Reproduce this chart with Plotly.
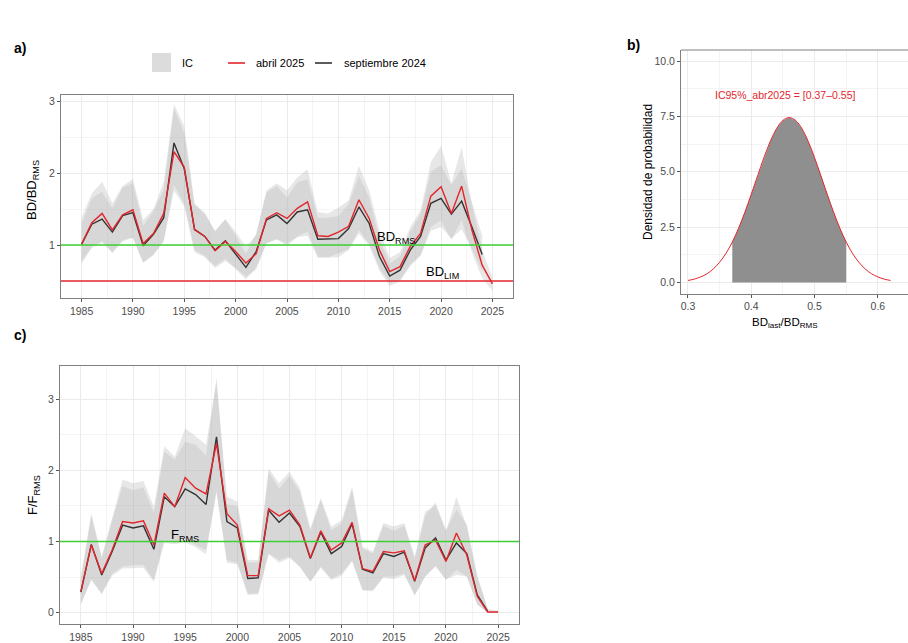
import plotly.graph_objects as go

# ---------------- data ----------------
years_apr25 = list(range(1985, 2026))
years_sep24 = list(range(1985, 2025))

# Biomasa desovante relativa BD/BD_RMS
bd_apr25 = [1.01, 1.31, 1.44, 1.21, 1.42, 1.49, 1.02, 1.16, 1.44, 2.30,
            2.08, 1.21, 1.12, 0.92, 1.05, 0.91, 0.75, 0.88, 1.37, 1.45,
            1.37, 1.51, 1.60, 1.13, 1.12, 1.18, 1.26, 1.63, 1.37, 0.93,
            0.63, 0.70, 0.98, 1.16, 1.68, 1.81, 1.44, 1.82, 1.21, 0.72,
            0.46]
bd_apr25_hi = [1.38, 1.72, 1.88, 1.58, 1.82, 1.92, 1.35, 1.50, 1.88, 2.96,
               2.65, 1.58, 1.45, 1.20, 1.36, 1.18, 0.98, 1.14, 1.76, 1.86,
               1.76, 1.94, 2.05, 1.46, 1.44, 1.52, 1.62, 2.10, 1.76, 1.20,
               0.82, 0.90, 1.25, 1.48, 2.15, 2.38, 1.86, 2.36, 1.56, 0.93,
               0.55]
bd_apr25_lo = [0.74, 0.96, 1.06, 0.89, 1.05, 1.10, 0.76, 0.86, 1.06, 1.75,
               1.54, 0.90, 0.83, 0.68, 0.78, 0.68, 0.56, 0.66, 1.02, 1.08,
               1.02, 1.12, 1.19, 0.84, 0.83, 0.88, 0.94, 1.21, 1.02, 0.69,
               0.47, 0.52, 0.73, 0.86, 1.25, 1.35, 1.07, 1.35, 0.90, 0.54,
               0.37]
bd_sep24 = [1.01, 1.29, 1.36, 1.18, 1.41, 1.45, 0.99, 1.15, 1.38, 2.42,
            2.06, 1.22, 1.12, 0.93, 1.06, 0.88, 0.69, 0.91, 1.35, 1.42,
            1.30, 1.46, 1.49, 1.08, 1.08, 1.09, 1.23, 1.53, 1.30, 0.84,
            0.57, 0.65, 0.93, 1.12, 1.58, 1.65, 1.43, 1.61, 1.25, 0.87]
bd_sep24_hi = [1.30, 1.65, 1.74, 1.51, 1.80, 1.86, 1.27, 1.47, 1.77, 2.90,
               2.55, 1.56, 1.43, 1.19, 1.36, 1.13, 0.88, 1.16, 1.73, 1.82,
               1.66, 1.87, 1.91, 1.38, 1.38, 1.40, 1.57, 1.96, 1.66, 1.08,
               0.74, 0.84, 1.19, 1.43, 2.02, 2.11, 1.83, 2.06, 1.60, 1.13]
bd_sep24_lo = [0.77, 0.98, 1.03, 0.90, 1.07, 1.10, 0.75, 0.87, 1.05, 1.84,
               1.57, 0.93, 0.85, 0.71, 0.81, 0.67, 0.52, 0.69, 1.03, 1.08,
               0.99, 1.11, 1.13, 0.82, 0.82, 0.83, 0.93, 1.16, 0.99, 0.64,
               0.43, 0.49, 0.71, 0.85, 1.20, 1.25, 1.09, 1.22, 0.95, 0.64]

# Mortalidad por pesca relativa F/F_RMS
f_apr25 = [0.30, 0.95, 0.55, 0.88, 1.28, 1.26, 1.29, 0.95, 1.68, 1.49,
           1.90, 1.75, 1.67, 2.38, 1.39, 1.23, 0.52, 0.52, 1.46, 1.36,
           1.44, 1.23, 0.77, 1.15, 0.88, 0.98, 1.27, 0.62, 0.58, 0.86,
           0.84, 0.87, 0.45, 0.95, 1.02, 0.72, 1.12, 0.81, 0.23, 0.01,
           0.01]
f_apr25_hi = [0.50, 1.40, 0.79, 1.35, 1.87, 1.82, 1.85, 1.49, 2.34, 2.19,
              2.59, 2.48, 2.36, 3.25, 1.63, 1.56, 0.74, 0.74, 2.03, 1.82,
              1.98, 1.75, 1.19, 1.61, 1.21, 1.30, 1.77, 0.93, 0.86, 1.26,
              1.21, 1.26, 0.79, 1.42, 1.51, 1.14, 1.63, 1.21, 0.51, 0.05,
              0.03]
f_apr25_lo = [0.12, 0.46, 0.27, 0.55, 0.65, 0.67, 0.67, 0.46, 1.02, 0.98,
              1.07, 0.95, 0.88, 1.68, 0.74, 0.70, 0.27, 0.27, 0.83, 0.74,
              0.79, 0.65, 0.44, 0.65, 0.48, 0.55, 0.74, 0.32, 0.32, 0.51,
              0.51, 0.55, 0.25, 0.51, 0.65, 0.46, 0.60, 0.51, 0.11, 0.00,
              0.00]
f_sep24 = [0.29, 0.96, 0.53, 0.86, 1.23, 1.19, 1.22, 0.89, 1.63, 1.49,
           1.74, 1.66, 1.52, 2.47, 1.28, 1.19, 0.48, 0.49, 1.44, 1.27,
           1.40, 1.21, 0.76, 1.13, 0.83, 0.93, 1.25, 0.61, 0.56, 0.83,
           0.79, 0.85, 0.44, 0.91, 1.05, 0.74, 0.98, 0.83, 0.25, 0.02]
f_sep24_hi = [0.48, 1.36, 0.76, 1.30, 1.78, 1.72, 1.76, 1.40, 2.26, 2.15,
              2.40, 2.36, 2.20, 3.30, 1.52, 1.50, 0.70, 0.71, 1.98, 1.74,
              1.92, 1.70, 1.15, 1.58, 1.16, 1.25, 1.73, 0.90, 0.83, 1.22,
              1.15, 1.22, 0.76, 1.36, 1.55, 1.16, 1.45, 1.24, 0.52, 0.06]
f_sep24_lo = [0.12, 0.47, 0.26, 0.52, 0.62, 0.62, 0.63, 0.43, 0.98, 0.96,
              0.99, 0.92, 0.82, 1.72, 0.70, 0.68, 0.25, 0.26, 0.82, 0.70,
              0.77, 0.64, 0.43, 0.63, 0.46, 0.52, 0.72, 0.31, 0.30, 0.49,
              0.47, 0.53, 0.24, 0.50, 0.66, 0.47, 0.53, 0.51, 0.12, 0.00]

# Puntos biológicos de referencia
BD_RMS_REF = 1.0
BD_LIM_REF = 0.5
F_RMS_REF = 1.0

# Densidad de BD_last/BD_RMS (abril 2025)
dens_x = [0.30, 0.31, 0.32, 0.33, 0.34, 0.35, 0.36, 0.37, 0.38, 0.39,
          0.40, 0.41, 0.42, 0.43, 0.44, 0.45, 0.46, 0.47, 0.48, 0.49,
          0.50, 0.51, 0.52, 0.53, 0.54, 0.55, 0.56, 0.57, 0.58, 0.59,
          0.60, 0.61, 0.62]
dens_y = [0.09, 0.15, 0.25, 0.39, 0.61, 0.91, 1.31, 1.82, 2.45, 3.18,
          3.98, 4.82, 5.64, 6.37, 6.95, 7.32, 7.45, 7.32, 6.95, 6.37,
          5.64, 4.82, 3.98, 3.18, 2.45, 1.82, 1.31, 0.91, 0.61, 0.39,
          0.25, 0.15, 0.09]
CI_LOW = 0.37
CI_HIGH = 0.55

# ---------------- styling ----------------
W, H = 908, 643
RED = "#E3262C"
DARK = "#333333"
GREEN = "#3DD033"
BAND = "rgba(180,180,180,0.32)"
FONT = "Liberation Sans, Arial, sans-serif"
TICKFONT = dict(family=FONT, size=10.5, color="#4d4d4d")
FRAME = "#7f7f7f"


def px_x(p):
    return p / W


def px_y(p):
    return 1 - p / H


fig = go.Figure()


def add_band(xs, lo, hi, xa, ya):
    fig.add_trace(go.Scatter(x=xs, y=hi, mode="lines", line=dict(width=0),
                             hoverinfo="skip", showlegend=False,
                             xaxis=xa, yaxis=ya))
    fig.add_trace(go.Scatter(x=xs, y=lo, mode="lines", line=dict(width=0),
                             fill="tonexty", fillcolor=BAND,
                             hoverinfo="skip", showlegend=False,
                             xaxis=xa, yaxis=ya))


def add_line(xs, ys, color, xa, ya):
    fig.add_trace(go.Scatter(x=xs, y=ys, mode="lines",
                             line=dict(color=color, width=1.4),
                             showlegend=False, xaxis=xa, yaxis=ya))


# panel a
add_band(years_sep24, bd_sep24_lo, bd_sep24_hi, "x", "y")
add_band(years_apr25, bd_apr25_lo, bd_apr25_hi, "x", "y")
add_line(years_sep24, bd_sep24, DARK, "x", "y")
add_line(years_apr25, bd_apr25, RED, "x", "y")

# panel c
add_band(years_sep24, f_sep24_lo, f_sep24_hi, "x3", "y3")
add_band(years_apr25, f_apr25_lo, f_apr25_hi, "x3", "y3")
add_line(years_sep24, f_sep24, DARK, "x3", "y3")
add_line(years_apr25, f_apr25, RED, "x3", "y3")

# panel b: shaded CI under the density curve, then the curve
shade_x = [x for x in dens_x if CI_LOW <= x <= CI_HIGH]
shade_y = [y for x, y in zip(dens_x, dens_y) if CI_LOW <= x <= CI_HIGH]
fig.add_trace(go.Scatter(x=shade_x, y=shade_y, mode="lines",
                         line=dict(width=0), fill="tozeroy",
                         fillcolor="#8f8f8f", showlegend=False,
                         xaxis="x2", yaxis="y2"))
fig.add_trace(go.Scatter(x=dens_x, y=dens_y, mode="lines",
                         line=dict(color=RED, width=1, shape="spline"),
                         showlegend=False, xaxis="x2", yaxis="y2"))

# reference lines
shapes = [
    dict(type="line", xref="x domain", yref="y", x0=0, x1=1,
         y0=BD_RMS_REF, y1=BD_RMS_REF, line=dict(color=GREEN, width=1.6)),
    dict(type="line", xref="x domain", yref="y", x0=0, x1=1,
         y0=BD_LIM_REF, y1=BD_LIM_REF, line=dict(color=RED, width=1.6)),
    dict(type="line", xref="x3 domain", yref="y3", x0=0, x1=1,
         y0=F_RMS_REF, y1=F_RMS_REF, line=dict(color=GREEN, width=1.6)),
    # top edge of panel b frame (panel continues past the page edge)
    dict(type="line", xref="paper", yref="paper",
         x0=px_x(681), x1=1.05, y0=px_y(50), y1=px_y(50),
         line=dict(color=FRAME, width=1)),
]

# legend (drawn by hand across the top of panel a)
shapes += [
    dict(type="rect", xref="paper", yref="paper",
         x0=px_x(152), x1=px_x(171), y0=px_y(72), y1=px_y(53),
         fillcolor="#dcdcdc", line=dict(width=0)),
    dict(type="line", xref="paper", yref="paper",
         x0=px_x(228), x1=px_x(245), y0=px_y(63), y1=px_y(63),
         line=dict(color=RED, width=1.6)),
    dict(type="line", xref="paper", yref="paper",
         x0=px_x(315), x1=px_x(332), y0=px_y(63), y1=px_y(63),
         line=dict(color=DARK, width=1.6)),
]


def ann(text, x, y, size=11, color="black", xanchor="center", **kw):
    return dict(text=text, xref="paper", yref="paper", x=px_x(x), y=px_y(y),
                xanchor=xanchor, yanchor="middle", showarrow=False,
                font=dict(family=FONT, size=size, color=color), **kw)


annotations = [
    ann("<b>a)</b>", 12, 48, size=14, xanchor="left"),
    ann("<b>b)</b>", 625, 45, size=14, xanchor="left"),
    ann("<b>c)</b>", 12, 335, size=14, xanchor="left"),
    ann("IC", 180, 63, size=11, xanchor="left"),
    ann("abril 2025", 254, 63, size=11, xanchor="left"),
    ann("septiembre 2024", 342, 63, size=11, xanchor="left"),
    ann("BD<sub>RMS</sub>", 375, 237, size=13, xanchor="left"),
    ann("BD<sub>LIM</sub>", 424, 273, size=13, xanchor="left"),
    ann("F<sub>RMS</sub>", 169, 535, size=13, xanchor="left"),
    ann(f"IC95%_abr2025 = [{CI_LOW:.2f}\u2013{CI_HIGH:.2f}]", 785, 95,
        size=10.5, color=RED),
    ann("BD<sub>last</sub>/BD<sub>RMS</sub>", 785, 323, size=11.5),
    ann("Densidad de probabilidad", 648, 172, size=12, textangle=-90),
    ann("BD/BD<sub>RMS</sub>", 33, 190, size=13, textangle=-90),
    ann("F/F<sub>RMS</sub>", 33, 495, size=13, textangle=-90),
]

common_axis = dict(
    showgrid=True, gridcolor="#ebebeb", gridwidth=1,
    zeroline=False, showline=True, linecolor=FRAME, linewidth=1,
    ticks="outside", ticklen=3, tickcolor="#555555", tickfont=TICKFONT,
)

year_minor = dict(dtick=2.5, tick0=1985, showgrid=True,
                  gridcolor="#f4f4f4", gridwidth=1)

fig.update_layout(
    width=W, height=H,
    margin=dict(l=0, r=0, t=0, b=0),
    paper_bgcolor="white", plot_bgcolor="white",
    showlegend=False,
    font=dict(family=FONT),
    xaxis=dict(domain=[px_x(61), px_x(513)], range=[1983, 2027],
               tickmode="linear", tick0=1985, dtick=5, mirror=True,
               minor=year_minor, anchor="y", **common_axis),
    yaxis=dict(domain=[px_y(298), px_y(94.5)], range=[0.264, 3.093],
               tickvals=[1, 2, 3], mirror=True,
               minor=dict(tickvals=[0.5, 1.5, 2.5], showgrid=True,
                          gridcolor="#f4f4f4"),
               anchor="x", **common_axis),
    xaxis2=dict(domain=[px_x(681), 1.0], range=[0.289, 0.6476],
                tickvals=[0.3, 0.4, 0.5, 0.6], ticktext=["0.3", "0.4", "0.5", "0.6"],
                minor=dict(tickvals=[0.35, 0.45, 0.55], showgrid=True,
                           gridcolor="#f4f4f4"),
                anchor="y2", mirror=False, **common_axis),
    yaxis2=dict(domain=[px_y(293.5), px_y(50)], range=[-0.5, 10.5],
                tickvals=[0, 2.5, 5, 7.5, 10],
                ticktext=["0.0", "2.5", "5.0", "7.5", "10.0"],
                minor=dict(tickvals=[1.25, 3.75, 6.25, 8.75], showgrid=True,
                           gridcolor="#f4f4f4"),
                anchor="x2", mirror=False, **common_axis),
    xaxis3=dict(domain=[px_x(60), px_x(519)], range=[1983, 2027],
                tickmode="linear", tick0=1985, dtick=5, mirror=True,
                minor=year_minor, anchor="y3", **common_axis),
    yaxis3=dict(domain=[px_y(624), px_y(365.5)], range=[-0.159, 3.473],
                tickvals=[0, 1, 2, 3], mirror=True,
                minor=dict(tickvals=[0.5, 1.5, 2.5], showgrid=True,
                           gridcolor="#f4f4f4"),
                anchor="x3", **common_axis),
    shapes=shapes,
    annotations=annotations,
)

fig.write_html("out.html")
